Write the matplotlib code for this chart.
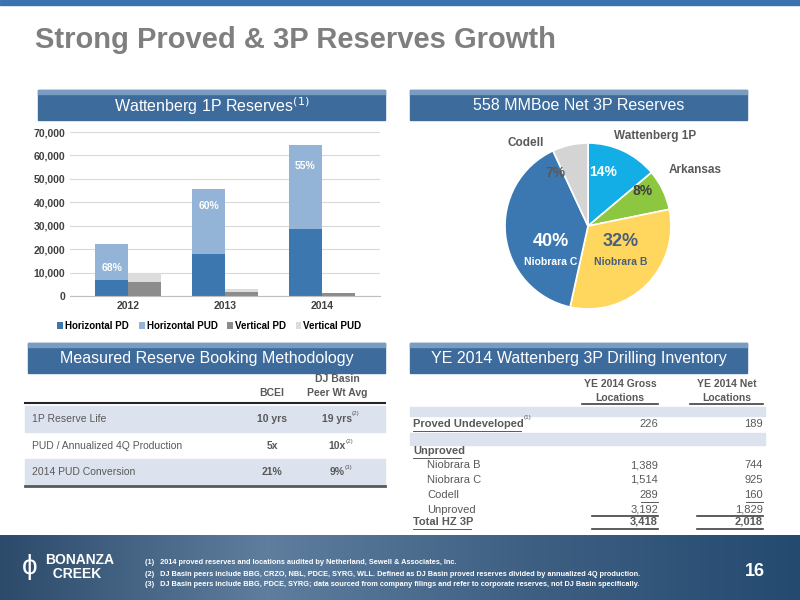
import matplotlib
matplotlib.use("Agg")
import matplotlib.pyplot as plt
from matplotlib.patches import Rectangle
from matplotlib.colors import LinearSegmentedColormap
import numpy as np

years = ["2012", "2013", "2014"]
h_pd = [6800, 18000, 28700]
h_pud = [15200, 27500, 35800]
v_pd = [6000, 1500, 1300]
v_pud = [4000, 1500, 0]
pud_pct = ["68%", "60%", "55%"]

pie_labels = ["Wattenberg 1P", "Arkansas", "Niobrara B", "Niobrara C", "Codell"]
pie_values = [14, 8, 32, 40, 7]
pie_colors = ["#13aee6", "#8dc63f", "#ffd75e", "#3b78b2", "#d4d4d4"]

bm_rows = ["1P Reserve Life", "PUD / Annualized 4Q Production", "2014 PUD Conversion"]
bm_bcei = ["10 yrs", "5x", "21%"]
bm_peer = ["19 yrs", "10x", "9%"]
bm_note = ["(2)", "(2)", "(3)"]

inv_rows = ["Niobrara B", "Niobrara C", "Codell", "Unproved"]
inv_gross = ["1,389", "1,514", "289", "3,192"]
inv_net = ["744", "925", "160", "1,829"]

plt.rcParams['font.family'] = ['Liberation Sans', 'DejaVu Sans']
fig = plt.figure(figsize=(8, 6), dpi=100)
ov = fig.add_axes([0, 0, 1, 1])
ov.set_xlim(0, 800); ov.set_ylim(600, 0); ov.axis('off')

# top strip & title
ov.add_patch(Rectangle((0, 0), 800, 5, color="#3b73b0"))
ov.text(35, 40, "Strong Proved & 3P Reserves Growth", fontsize=21, fontweight='bold',
        color="#7f7f7f", va='center')

def header(x, y, w, txt):
    ov.add_patch(Rectangle((x, y), w, 30, color="#3d6b9c"))
    ov.add_patch(Rectangle((x, y), w, 4, color="#7a9cc2"))
    ov.text(x + w / 2, y + 16, txt, color='white', fontsize=11.5, ha='center', va='center')

header(38, 90, 347, "Wattenberg 1P Reserves$^{(1)}$")
header(410, 90, 337, "558 MMBoe Net 3P Reserves")
header(28, 343, 357, "Measured Reserve Booking Methodology")
header(410, 343, 337, "YE 2014 Wattenberg 3P Drilling Inventory")

# bar chart
ax = fig.add_axes([70 / 800, 1 - 296 / 600, 310 / 800, 164 / 600])
x = np.arange(3)
w = 0.34
ax.bar(x - w / 2, h_pd, w, color="#3c77b0", label="Horizontal PD")
ax.bar(x - w / 2, h_pud, w, bottom=h_pd, color="#93b4d6", label="Horizontal PUD")
ax.bar(x + w / 2, v_pd, w, color="#8c8c8c", label="Vertical PD")
ax.bar(x + w / 2, v_pud, w, bottom=v_pd, color="#dcdcdc", label="Vertical PUD")
for i in range(3):
    ax.text(x[i] - w / 2, h_pd[i] + h_pud[i] * 0.75 if i else h_pd[i] + h_pud[i] * 0.33,
            pud_pct[i], color='white', fontsize=7.5, fontweight='bold', ha='center', va='center')
ax.set_ylim(0, 70000)
ax.set_yticks(range(0, 70001, 10000))
ax.set_yticklabels([f"{v:,}" for v in range(0, 70001, 10000)], fontsize=7.5, fontweight='bold', color='#404040')
ax.set_xticks(x); ax.set_xticklabels(years, fontsize=7.5, fontweight='bold', color='#404040')
ax.set_xlim(-0.6, 2.6)
ax.grid(axis='y', color='#d9d9d9', lw=0.8); ax.set_axisbelow(True)
for s in ['top', 'right', 'left']:
    ax.spines[s].set_visible(False)
ax.spines['bottom'].set_color('#bfbfbf')
ax.tick_params(length=0)
ax.legend(loc='upper center', bbox_to_anchor=(0.45, -0.1), ncol=4, frameon=False,
          handlelength=0.6, handletextpad=0.2, columnspacing=1.0,
          prop={'weight': 'bold', 'size': 7})

# pie
R = 83
pa = fig.add_axes([(588 - R) / 800, 1 - (226 + R) / 600, 2 * R / 800, 2 * R / 600])
pa.pie(pie_values, colors=pie_colors, startangle=90, counterclock=False, radius=1.0,
       wedgeprops=dict(edgecolor='white', linewidth=1.2))
pa.set_xlim(-1, 1); pa.set_ylim(-1, 1)
pa.set_aspect('auto')

top = fig.add_axes([0, 0, 1, 1])
top.set_xlim(0, 800); top.set_ylim(600, 0); top.axis('off')
top.text(603, 172, "14%", color='white', fontsize=10, fontweight='bold', ha='center', va='center')
top.text(643, 191, "8%", color='#3f3f3f', fontsize=10, fontweight='bold', ha='center', va='center')
top.text(621, 241, "32%", color='#4a5f7a', fontsize=13, fontweight='bold', ha='center', va='center')
top.text(621, 262, "Niobrara B", color='#4a5f7a', fontsize=7.5, fontweight='bold', ha='center', va='center')
top.text(551, 241, "40%", color='white', fontsize=13, fontweight='bold', ha='center', va='center')
top.text(551, 262, "Niobrara C", color='white', fontsize=7.5, fontweight='bold', ha='center', va='center')
top.text(555, 173, "7%", color='#595959', fontsize=10, fontweight='bold', ha='center', va='center')
top.text(655, 136, "Wattenberg 1P", color='#595959', fontsize=8.5, fontweight='bold', ha='center', va='center')
top.text(695, 170, "Arkansas", color='#595959', fontsize=8.5, fontweight='bold', ha='center', va='center')
top.text(526, 143, "Codell", color='#595959', fontsize=8.5, fontweight='bold', ha='center', va='center')

# methodology table
gray = '#595959'
ov.text(272, 398, "BCEI", fontsize=7.5, fontweight='bold', color=gray, ha='center', va='bottom')
ov.text(337, 398, "DJ Basin\nPeer Wt Avg", fontsize=7.5, fontweight='bold', color=gray, ha='center', va='bottom',
        linespacing=1.5)
ov.plot([25, 385], [403, 403], color='#262626', lw=1.5)
row_y = [419, 446, 472]
note_x = [352, 346, 345]
for i, r in enumerate(bm_rows):
    if i % 2 == 0:
        ov.add_patch(Rectangle((25, row_y[i] - 13), 360, 26, color='#dce3ee'))
    ov.text(32, row_y[i], r, fontsize=7.5, color=gray, va='center')
    ov.text(272, row_y[i], bm_bcei[i], fontsize=7.5, fontweight='bold', color=gray, ha='center', va='center')
    ov.text(337, row_y[i], bm_peer[i], fontsize=7.5, fontweight='bold', color=gray, ha='center', va='center')
    ov.text(note_x[i], row_y[i] - 5, bm_note[i], fontsize=4.5, color=gray, va='center')
ov.plot([25, 385], [486, 486], color='#595959', lw=2)

# inventory table
ov.text(620, 403, "YE 2014 Gross\nLocations", fontsize=7.5, fontweight='bold', color=gray, ha='center',
        va='bottom', linespacing=1.5)
ov.text(727, 403, "YE 2014 Net\nLocations", fontsize=7.5, fontweight='bold', color=gray, ha='center',
        va='bottom', linespacing=1.5)
ov.plot([582, 658], [404, 404], color='#404040', lw=1.2)
ov.plot([690, 763], [404, 404], color='#404040', lw=1.2)
ov.add_patch(Rectangle((410, 407), 355, 9, color='#dce3ee'))
ov.add_patch(Rectangle((410, 433), 355, 12, color='#dce3ee'))
ov.text(413, 424, "Proved Undeveloped", fontsize=8, fontweight='bold', color=gray, va='center')
ov.plot([413, 521], [431, 431], color=gray, lw=0.7)
ov.text(524, 418, "(1)", fontsize=4.5, color=gray, va='center')
ov.text(658, 424, "226", fontsize=8, color=gray, ha='right', va='center')
ov.text(763, 424, "189", fontsize=8, color=gray, ha='right', va='center')
ov.text(413, 451, "Unproved", fontsize=8, fontweight='bold', color=gray, va='center')
ov.plot([413, 461], [458, 458], color=gray, lw=0.7)
ys = [465, 480, 495, 510]
for i, r in enumerate(inv_rows):
    ov.text(427, ys[i], r, fontsize=8, color=gray, va='center')
    ov.text(658, ys[i], inv_gross[i], fontsize=8, color=gray, ha='right', va='center')
    ov.text(763, ys[i], inv_net[i], fontsize=8, color=gray, ha='right', va='center')
ov.plot([641, 658], [502, 502], color=gray, lw=0.7)
ov.plot([746, 763], [502, 502], color=gray, lw=0.7)
ov.plot([592, 658], [516, 516], color='#404040', lw=1.2)
ov.plot([697, 763], [516, 516], color='#404040', lw=1.2)
ov.text(413, 522, "Total HZ 3P", fontsize=8, fontweight='bold', color=gray, va='center')
ov.plot([413, 471], [529, 529], color=gray, lw=0.7)
ov.text(658, 522, "3,418", fontsize=8, fontweight='bold', color=gray, ha='right', va='center')
ov.text(763, 522, "2,018", fontsize=8, fontweight='bold', color=gray, ha='right', va='center')
ov.plot([592, 658], [529, 529], color='#404040', lw=1.2)
ov.plot([697, 763], [529, 529], color='#404040', lw=1.2)

# footer gradient
grad = np.linspace(0, 1, 256)[None, :]
cm = LinearSegmentedColormap.from_list("f", ["#2c4a6a", "#5f7e9e", "#3d5f82", "#254a70"])
ov.imshow(grad, cmap=cm, extent=[0, 800, 600, 535], aspect='auto', zorder=0)
ov.set_xlim(0, 800); ov.set_ylim(600, 0)
ov.text(45, 567, "BONANZA\n  CREEK", color='white', fontsize=10, fontweight='bold', va='center',
        linespacing=1.0)
ov.text(30, 567, "ϕ", color='white', fontsize=20, va='center', ha='center')
notes = ["(1)   2014 proved reserves and locations audited by Netherland, Sewell & Associates, Inc.",
         "(2)   DJ Basin peers include BBG, CRZO, NBL, PDCE, SYRG, WLL. Defined as DJ Basin proved reserves divided by annualized 4Q production.",
         "(3)   DJ Basin peers include BBG, PDCE, SYRG; data sourced from company filings and refer to corporate reserves, not DJ Basin specifically."]
for i, n in enumerate(notes):
    ov.text(145, 563 + i * 11, n, color='white', fontsize=5.3, fontweight='bold', va='center')
ov.text(755, 572, "16", color='white', fontsize=13, fontweight='bold', ha='center', va='center')

fig.savefig("out.png", dpi=100)
